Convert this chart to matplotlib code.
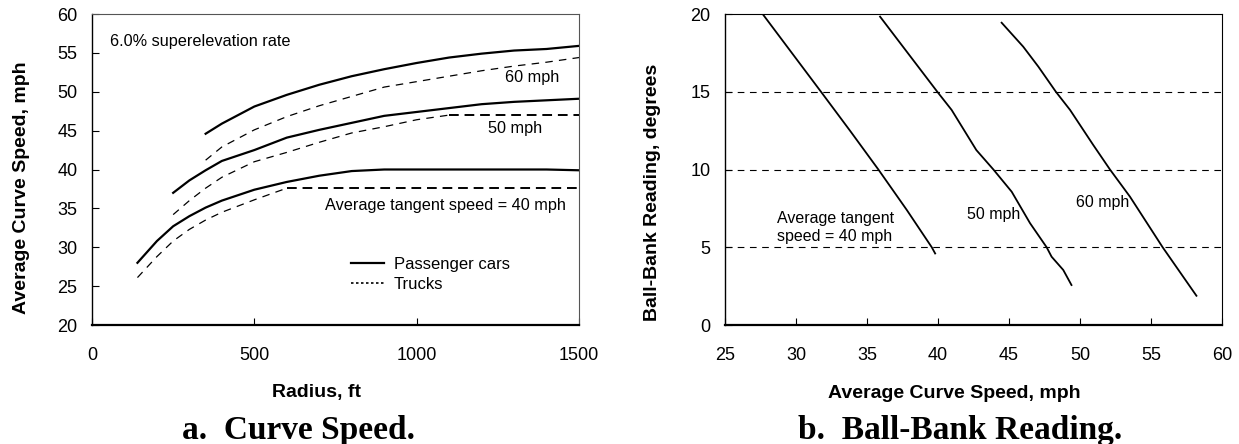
import numpy as np
import matplotlib
matplotlib.use("Agg")
import matplotlib.pyplot as plt
from matplotlib.lines import Line2D

plt.rcParams['font.family'] = ['Liberation Sans', 'DejaVu Sans']

# ---- panel a: curve speed vs radius ----
radius = [140, 200, 250, 300, 350, 400, 500, 600, 700, 800, 900, 1000, 1100, 1200, 1300, 1400, 1500]
car40 = [28.0, 30.8, 32.7, 34.0, 35.1, 36.0, 37.4, 38.4, 39.2, 39.8, 40.0, 40.0, 40.0, 40.0, 40.0, 40.0, 39.9]
truck40 = [26.1, 28.8, 30.8, 32.3, 33.5, 34.5, 36.1, 37.6, 37.6, 37.6, 37.6, 37.6, 37.6, 37.6, 37.6, 37.6, 37.6]

radius50 = [250, 300, 350, 400, 500, 600, 700, 800, 900, 1000, 1100, 1200, 1300, 1400, 1500]
car50 = [37.0, 38.6, 39.9, 41.1, 42.5, 44.1, 45.1, 46.0, 46.9, 47.4, 47.9, 48.4, 48.7, 48.9, 49.1]
truck50 = [34.2, 36.0, 37.6, 39.0, 41.0, 42.2, 43.5, 44.7, 45.5, 46.4, 47.0, 47.0, 47.0, 47.0, 47.0]

radius60 = [350, 400, 500, 600, 700, 800, 900, 1000, 1100, 1200, 1300, 1400, 1500]
car60 = [44.6, 45.9, 48.1, 49.6, 50.9, 52.0, 52.9, 53.7, 54.4, 54.9, 55.3, 55.5, 55.9]
truck60 = [41.2, 42.9, 45.1, 46.8, 48.2, 49.4, 50.6, 51.3, 52.0, 52.7, 53.3, 53.8, 54.4]

# ---- panel b: ball-bank reading vs curve speed ----
speed40 = [27.65, 31.76, 33.8, 35.8, 37.8, 39.56, 39.8]
bbi40 = [20.0, 15.0, 12.5, 10.0, 7.4, 5.0, 4.6]
speed50 = [35.92, 39.95, 40.96, 42.7, 43.9, 45.19, 46.48, 47.65, 48.0, 48.82, 49.4]
bbi50 = [19.83, 15.0, 13.83, 11.25, 10.0, 8.57, 6.55, 5.0, 4.39, 3.54, 2.57]
speed60 = [44.48, 46.0, 47.07, 48.3, 49.3, 50.93, 52.11, 53.52, 55.82, 58.2]
bbi60 = [19.44, 17.9, 16.61, 15.0, 13.83, 11.58, 10.0, 8.25, 5.0, 1.88]

fig = plt.figure(figsize=(12.39, 4.44), dpi=100)
ax1 = fig.add_axes([92/1239, 1-325/444, 487/1239, 311/444])
ax2 = fig.add_axes([725/1239, 1-325/444, 497/1239, 311/444])

def truck(ax, r, v):
    r = np.array(r); v = np.array(v)
    flat = v == v[-1]                                  # plateau part is drawn bolder
    if flat.sum() > 1:
        i = np.argmax(flat)
        ax.plot(r[:i+1], v[:i+1], color='black', lw=0.9, dashes=(6, 5))
        ax.plot(r[i:], v[i:], color='black', lw=1.4, dashes=(5, 3))
    else:
        ax.plot(r, v, color='black', lw=0.9, dashes=(6, 5))

ax1.plot(radius, car40, color='black', lw=1.6)
ax1.plot(radius50, car50, color='black', lw=1.6)
ax1.plot(radius60, car60, color='black', lw=1.6)
truck(ax1, radius, truck40)
truck(ax1, radius50, truck50)
truck(ax1, radius60, truck60)

ax1.set_xlim(0, 1500)
ax1.set_ylim(20, 60)
ax1.set_xticks([0, 500, 1000, 1500])
ax1.set_yticks(range(20, 61, 5))

ax1.text(55, 56.4, '6.0% superelevation rate', fontsize=11.7, va='center')
ax1.text(1355, 51.8, '60 mph', fontsize=11.7, ha='center', va='center')
ax1.text(1303, 45.3, '50 mph', fontsize=11.7, ha='center', va='center')
ax1.text(718, 35.35, 'Average tangent speed = 40 mph', fontsize=11.7, va='center')

handles = [Line2D([], [], color='black', lw=1.6),
           Line2D([], [], color='black', lw=1.2, ls=(0, (1.5, 1.5)))]
ax1.legend(handles, ['Passenger cars', 'Trucks'], loc='upper left',
           bbox_to_anchor=(0.532, 0.22), frameon=False, fontsize=12,
           borderpad=0, borderaxespad=0, handlelength=2.0, handletextpad=0.55,
           labelspacing=0.3)

# ---- panel b ----
for s, b in [(speed40, bbi40), (speed50, bbi50), (speed60, bbi60)]:
    ax2.plot(s, b, color='black', lw=1.3)
for yv in [5, 10, 15]:
    ax2.axhline(yv, color='black', lw=0.8, dashes=(6, 5), zorder=0)

ax2.set_xlim(25, 60)
ax2.set_ylim(0, 20)
ax2.set_xticks(range(25, 61, 5))
ax2.set_yticks(range(0, 21, 5))

ax2.text(28.66, 6.3, 'Average tangent\nspeed = 40 mph', fontsize=11.5, va='center',
         linespacing=1.25)
ax2.text(43.9, 7.1, '50 mph', fontsize=11.5, ha='center', va='center')
ax2.text(51.6, 7.9, '60 mph', fontsize=11.5, ha='center', va='center')

for ax in (ax1, ax2):
    ax.tick_params(direction='in', length=5, labelsize=13, width=0.8)
    ax.tick_params(axis='x', pad=16)
    ax.tick_params(axis='y', pad=10.5)
    for side in ['top', 'right']:
        ax.spines[side].set_linewidth(0.8)
        ax.spines[side].set_color('#555555' if ax is ax1 else 'black')
    ax.spines['left'].set_linewidth(1.0)
    ax.spines['bottom'].set_linewidth(1.6)

# axis labels and captions placed in figure coordinates
fig.text(317/1239, 1-393/444, 'Radius, ft', fontsize=14, fontweight='bold',
         ha='center', va='center')
fig.text(22/1239, 1-188/444, 'Average Curve Speed, mph', fontsize=14,
         fontweight='bold', rotation=90, ha='center', va='center')
fig.text(954/1239, 1-393/444, 'Average Curve Speed, mph', fontsize=14,
         fontweight='bold', ha='center', va='center')
fig.text(653/1239, 1-192/444, 'Ball-Bank Reading, degrees', fontsize=14,
         fontweight='bold', rotation=90, ha='center', va='center')

fig.text(298/1239, 1-430/444, 'a.  Curve Speed.', fontsize=24, fontweight='bold',
         family='Liberation Serif', ha='center', va='center')
fig.text(960/1239, 1-430/444, 'b.  Ball-Bank Reading.', fontsize=24,
         fontweight='bold', family='Liberation Serif', ha='center', va='center')

fig.savefig('out.png', dpi=100)
